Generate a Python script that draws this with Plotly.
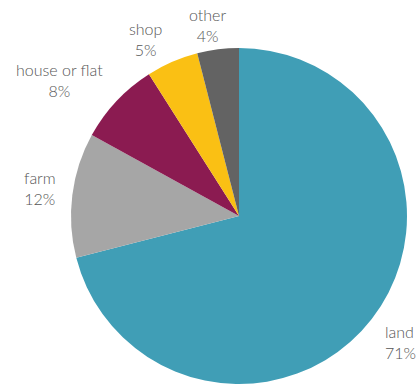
import math
import plotly.graph_objects as go

# Share of holdings by asset type
labels = ["land", "farm", "house or flat", "shop", "other"]
values = [71, 12, 8, 5, 4]
colors = ["#409EB6", "#A6A6A6", "#8B1B51", "#FAC014", "#636363"]

W, H = 420, 386
# pie domain in pixels: left, right, top, bottom
PX_L, PX_R, PX_T, PX_B = 71, 407, 48, 384

fig = go.Figure(
    go.Pie(
        labels=labels,
        values=values,
        sort=False,
        direction="clockwise",
        rotation=0,
        marker=dict(colors=colors, line=dict(width=0)),
        textinfo="none",
        hoverinfo="label+percent",
        showlegend=False,
        domain=dict(x=[PX_L / W, PX_R / W], y=[1 - PX_B / H, 1 - PX_T / H]),
    )
)

# Outside labels: the text box corner nearest the pie sits on the slice's mid-angle ray
cx, cy = (PX_L + PX_R) / 2, (PX_T + PX_B) / 2
radius = min(PX_R - PX_L, PX_B - PX_T) / 2
gap = 10
# small pixel nudges per anchor side to compensate for annotation padding
yshift_for = {"bottom": -8, "top": 5, "middle": 6}
xshift_for = {"left": 3, "right": -4, "center": -9}

total = sum(values)
cum = 0
for lab, val in zip(labels, values):
    mid = (cum + val / 2) / total * 2 * math.pi
    cum += val
    s, c = math.sin(mid), math.cos(mid)
    px = cx + (radius + gap) * s
    py = cy - (radius + gap) * c
    xanchor = "left" if s > 0.3 else ("right" if s < -0.3 else "center")
    yanchor = "bottom" if c > 0.3 else ("top" if c < -0.3 else "middle")
    fig.add_annotation(
        x=px / W, y=1 - py / H, xref="paper", yref="paper",
        text=f"{lab}<br>{val}%",
        showarrow=False,
        xanchor=xanchor, yanchor=yanchor,
        xshift=xshift_for[xanchor], yshift=yshift_for[yanchor],
        align="left" if xanchor == "left" else "center",
        font=dict(family="Lato", size=16, color="#555555", weight=300),
    )

fig.update_layout(
    width=W,
    height=H,
    margin=dict(l=0, r=0, t=0, b=0),
    paper_bgcolor="white",
    plot_bgcolor="white",
)

fig.write_html("out.html")
